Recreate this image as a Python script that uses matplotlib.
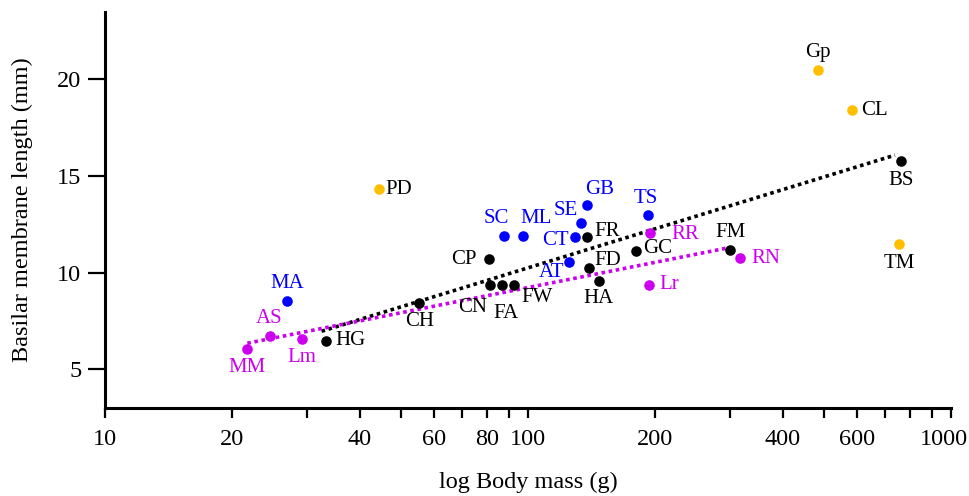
import numpy as np
import matplotlib
matplotlib.use("Agg")
import matplotlib.pyplot as plt
from matplotlib.ticker import FixedLocator, NullFormatter, NullLocator
from matplotlib.transforms import ScaledTranslation

plt.rcParams['font.family'] = ['Liberation Serif', 'DejaVu Serif']

# body mass (g), basilar membrane length (mm)
black_names = ['HG', 'CH', 'CN', 'FA', 'FW', 'CP', 'FR', 'FD', 'HA', 'GC', 'FM', 'BS']
black_mass = [33.3, 55.3, 81.3, 86.9, 92.8, 81.0, 138, 139.3, 146.9, 179.7, 300.3, 760]
black_len = [6.48, 8.43, 9.34, 9.34, 9.34, 10.69, 11.84, 10.24, 9.56, 11.1, 11.16, 15.77]

blue_names = ['MA', 'SC', 'ML', 'SE', 'GB', 'CT', 'AT', 'TS']
blue_mass = [26.9, 87.7, 97.2, 133.4, 138, 129, 125, 192.2]
blue_len = [8.56, 11.9, 11.9, 12.57, 13.52, 11.84, 10.55, 13.0]

mag_names = ['MM', 'AS', 'Lm', 'RR', 'Lr', 'RN']
mag_mass = [21.7, 24.5, 29.3, 194.3, 193.6, 316.9]
mag_len = [6.03, 6.75, 6.58, 12.07, 9.38, 10.78]

orange_names = ['PD', 'Gp', 'CL', 'TM']
orange_mass = [44.5, 485, 582, 755]
orange_len = [14.31, 20.48, 18.41, 11.47]

# fitted trend lines (end points)
black_fit_x = [32.5, 737]
black_fit_y = [6.97, 16.08]
mag_fit_x = [21.7, 295]
mag_fit_y = [6.35, 11.27]

# label offsets in pixels (text centre relative to point)
offsets = {
    'MM': (0, -18), 'AS': (-1, 17), 'Lm': (-1, -19), 'HG': (25, 0),
    'MA': (0, 17), 'CH': (0, -18), 'CN': (-17, -22), 'FA': (4, -28),
    'FW': (23, -12), 'CP': (-25, 0), 'SC': (-8, 17), 'ML': (13, 17),
    'SE': (-15, 12), 'GB': (12, 15), 'CT': (-19, -3), 'FR': (20, 6),
    'AT': (-17, -10), 'FD': (19, 8), 'HA': (0, -17), 'GC': (22, 3),
    'TS': (-2, 16), 'RR': (35, -2), 'Lr': (20, 0), 'FM': (0, 18),
    'RN': (26, -1), 'Gp': (0, 18), 'CL': (23, 0), 'BS': (0, -19),
    'TM': (0, -19), 'PD': (19, 0),
}

c_black = 'black'
c_blue = '#0000ff'
c_mag = '#cc00ee'
c_orange = '#ffbf00'

fig = plt.figure(figsize=(9.69, 4.96), dpi=100)
ax = fig.add_axes([105 / 969, 88 / 496, 846 / 969, (408 - 11.7) / 496])

ax.plot(black_fit_x, black_fit_y, color=c_black, lw=2.6, ls=(0, (1, 1)), zorder=2)
ax.plot(mag_fit_x, mag_fit_y, color=c_mag, lw=2.6, ls=(0, (1, 1)), zorder=2)

groups = [
    (black_names, black_mass, black_len, c_black, c_black),
    (blue_names, blue_mass, blue_len, c_blue, c_blue),
    (mag_names, mag_mass, mag_len, c_mag, c_mag),
    (orange_names, orange_mass, orange_len, c_orange, c_black),
]
for names, xs, ys, col, tcol in groups:
    ax.scatter(xs, ys, s=58, color=col, zorder=3, linewidths=0)
    for n, x, y in zip(names, xs, ys):
        ax.annotate(n, (x, y), xytext=offsets[n], textcoords='offset pixels',
                    ha='center', va='center', fontsize=15, color=tcol)

ax.set_xscale('log')
ax.set_xlim(10, 1000)
ax.set_ylim(3, 23.5)

major = [10, 20, 40, 60, 80, 100, 200, 400, 600, 1000]
minor = [30, 50, 70, 90, 300, 500, 700, 800, 900]
ax.xaxis.set_major_locator(FixedLocator(major))
ax.xaxis.set_minor_locator(FixedLocator(minor))
ax.xaxis.set_minor_formatter(NullFormatter())
ax.set_xticklabels([str(v) for v in major])
ax.set_yticks([5, 10, 15, 20])
ax.yaxis.set_minor_locator(NullLocator())

for s in ['top', 'right']:
    ax.spines[s].set_visible(False)
for s in ['left', 'bottom']:
    ax.spines[s].set_linewidth(2.2)

ax.tick_params(axis='x', which='both', length=7, width=1.6, pad=8, labelsize=17.5)
ax.tick_params(axis='y', which='both', length=12, width=1.6, pad=5, labelsize=17.5)

ax.set_xlabel('log Body mass (g)', fontsize=17.5, labelpad=16)
ax.set_ylabel('Basilar membrane length (mm)', fontsize=17.5, labelpad=17)

# nudge the last x label so it stays inside the figure
fig.canvas.draw()
last = ax.xaxis.get_major_ticks()[-1].label1
last.set_transform(last.get_transform() + ScaledTranslation(-7 / 100, 0, fig.dpi_scale_trans))

fig.savefig('out.png', dpi=100)
